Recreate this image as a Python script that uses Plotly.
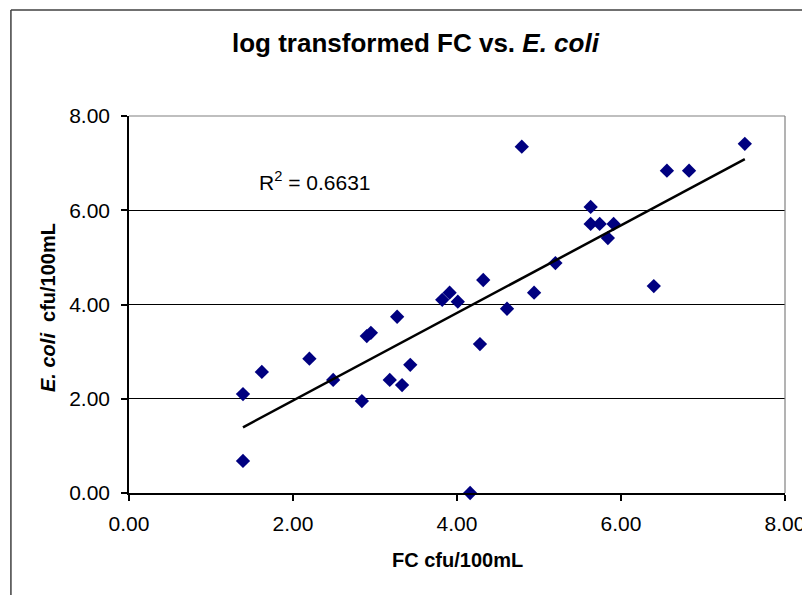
import numpy as np
import plotly.graph_objects as go

fc = [1.39, 1.39, 1.62, 2.20, 2.49, 2.84, 2.90, 2.95, 3.18, 3.27, 3.33, 3.43,
      3.82, 3.91, 4.01, 4.16, 4.28, 4.32, 4.61, 4.79, 4.94, 5.20, 5.63, 5.63,
      5.74, 5.84, 5.91, 6.40, 6.56, 6.83, 7.51]
ecoli = [2.10, 0.68, 2.57, 2.85, 2.40, 1.95, 3.33, 3.40, 2.40, 3.74, 2.29, 2.72,
         4.10, 4.25, 4.06, 0.00, 3.16, 4.52, 3.91, 7.35, 4.25, 4.88, 6.07, 5.71,
         5.71, 5.41, 5.71, 4.39, 6.84, 6.84, 7.41]
tick_vals = [0, 2, 4, 6, 8]
tick_text = ["0.00", "2.00", "4.00", "6.00", "8.00"]
r2_label = "R<sup>2</sup> = 0.6631"
title_text = "<b>log transformed FC vs. <i>E. coli</i></b>"
x_title = "<b>FC cfu/100mL</b>"
y_title = "<b><i>E. coli</i>  cfu/100mL</b>"

slope, intercept = np.polyfit(fc, ecoli, 1)
xs = [min(fc), max(fc)]
ys = [slope * v + intercept for v in xs]

FONT = "Liberation Sans, Arial, sans-serif"

fig = go.Figure()
fig.add_trace(go.Scatter(x=fc, y=ecoli, mode="markers",
                         marker=dict(symbol="diamond", size=11, color="#000080"),
                         showlegend=False, hoverinfo="x+y", cliponaxis=False))
fig.add_trace(go.Scatter(x=xs, y=ys, mode="lines",
                         line=dict(color="black", width=2.5),
                         showlegend=False, hoverinfo="skip"))

fig.add_annotation(x=1.56, y=6.62, xref="x", yref="y", text=r2_label,
                   showarrow=False, xanchor="left", yanchor="middle",
                   font=dict(family=FONT, size=21, color="black"))
fig.add_annotation(x=0.5, y=-0.1777, xref="paper", yref="paper", text=x_title,
                   showarrow=False, xanchor="center", yanchor="middle",
                   font=dict(family=FONT, size=20, color="black"))
fig.add_annotation(x=-0.1235, y=0.4934, xref="paper", yref="paper", text=y_title,
                   showarrow=False, xanchor="center", yanchor="middle", textangle=-90,
                   font=dict(family=FONT, size=20, color="black"))

# outer chart border
fig.add_shape(type="line", xref="paper", yref="paper",
              x0=-0.18, y0=-0.4, x1=-0.18, y1=1.281,
              line=dict(color="#404040", width=1.5))
fig.add_shape(type="line", xref="paper", yref="paper",
              x0=-0.18, y0=1.281, x1=1.2, y1=1.281,
              line=dict(color="#404040", width=1.5))
# plot area top/right border (gray)
fig.add_shape(type="line", xref="paper", yref="paper",
              x0=0, y0=1, x1=1, y1=1, line=dict(color="#808080", width=1.2))
fig.add_shape(type="line", xref="paper", yref="paper",
              x0=1, y0=0, x1=1, y1=1, line=dict(color="#808080", width=1.2))

fig.update_layout(
    width=810, height=595,
    margin=dict(l=121, r=33, t=108, b=110),
    paper_bgcolor="white", plot_bgcolor="white",
    font=dict(family=FONT, color="black"),
    title=dict(text=title_text,
               x=0.503, xanchor="center", y=0.941, yanchor="middle",
               font=dict(family=FONT, size=26, color="black")),
    xaxis=dict(range=[0, 8], tickvals=tick_vals, ticktext=tick_text,
               showgrid=False, zeroline=False, showline=True,
               linecolor="black", linewidth=1.5, ticks="outside",
               ticklen=6, tickcolor="black", tickwidth=1.5,
               ticklabelstandoff=5,
               tickfont=dict(size=21, family=FONT, color="black")),
    yaxis=dict(range=[0, 8], tickvals=tick_vals, ticktext=tick_text,
               showgrid=True, gridcolor="black", gridwidth=1.2,
               zeroline=False, showline=True,
               linecolor="black", linewidth=1.5, ticks="outside",
               ticklen=6, tickcolor="black", tickwidth=1.5,
               ticklabelstandoff=7,
               tickfont=dict(size=21, family=FONT, color="black")),
)

fig.write_html("out.html")
